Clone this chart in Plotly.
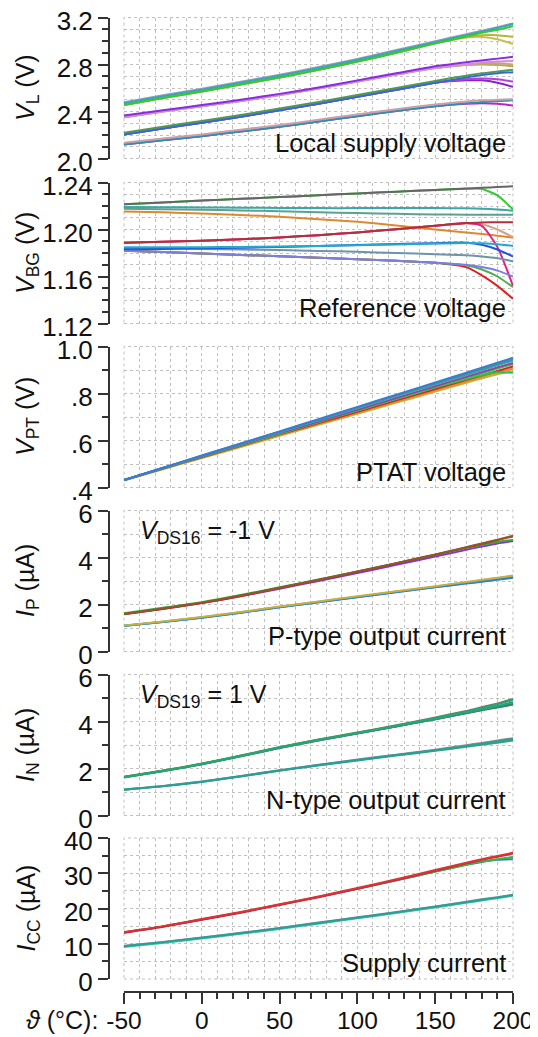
import plotly.graph_objects as go

# ---------------- data ----------------
T = [-50, -25, 0, 25, 50, 75, 100, 125, 150, 170, 180, 190, 200]

# Panel 1: local supply voltage V_L (V)
vl_cyan   = [2.470, 2.530, 2.585, 2.645, 2.705, 2.770, 2.840, 2.915, 2.990, 3.050, 3.080, 3.110, 3.145]
vl_gray   = [2.478, 2.538, 2.593, 2.653, 2.713, 2.778, 2.848, 2.923, 2.998, 3.058, 3.088, 3.118, 3.150]
vl_green  = [2.455, 2.515, 2.570, 2.630, 2.690, 2.755, 2.825, 2.900, 2.980, 3.040, 3.070, 3.095, 3.125]
vl_olive1 = [2.455, 2.515, 2.570, 2.630, 2.690, 2.755, 2.825, 2.900, 2.980, 3.035, 3.050, 3.050, 3.035]
vl_olive2 = [2.455, 2.515, 2.570, 2.630, 2.690, 2.755, 2.825, 2.900, 2.980, 3.030, 3.035, 3.015, 2.975]
vl_purple = [2.365, 2.410, 2.455, 2.500, 2.550, 2.605, 2.665, 2.725, 2.785, 2.820, 2.835, 2.850, 2.865]
vl_pink   = [2.352, 2.400, 2.445, 2.490, 2.540, 2.595, 2.655, 2.715, 2.770, 2.800, 2.815, 2.825, 2.830]
vl_tan    = [2.352, 2.400, 2.445, 2.490, 2.540, 2.595, 2.655, 2.715, 2.770, 2.800, 2.810, 2.810, 2.800]
vl_olive3 = [2.352, 2.400, 2.445, 2.490, 2.540, 2.595, 2.655, 2.715, 2.770, 2.795, 2.800, 2.795, 2.785]
vl_dkgreen= [2.220, 2.270, 2.320, 2.370, 2.425, 2.480, 2.540, 2.600, 2.660, 2.705, 2.725, 2.740, 2.755]
vl_blue   = [2.205, 2.255, 2.305, 2.355, 2.410, 2.465, 2.525, 2.585, 2.645, 2.690, 2.710, 2.725, 2.735]
vl_violet1= [2.205, 2.255, 2.305, 2.355, 2.410, 2.465, 2.525, 2.585, 2.645, 2.675, 2.680, 2.675, 2.655]
vl_violet2= [2.205, 2.255, 2.305, 2.355, 2.410, 2.465, 2.525, 2.585, 2.645, 2.665, 2.665, 2.645, 2.610]
vl_rose   = [2.135, 2.170, 2.205, 2.245, 2.285, 2.330, 2.375, 2.420, 2.460, 2.485, 2.495, 2.500, 2.505]
vl_teal   = [2.120, 2.155, 2.190, 2.230, 2.270, 2.315, 2.360, 2.405, 2.445, 2.470, 2.480, 2.490, 2.495]
vl_magenta= [2.120, 2.155, 2.190, 2.230, 2.270, 2.315, 2.360, 2.405, 2.445, 2.465, 2.470, 2.465, 2.450]

# Panel 2: reference voltage V_BG (V)
vbg_gray    = [1.2215, 1.2230, 1.2246, 1.2261, 1.2276, 1.2291, 1.2307, 1.2322, 1.2337, 1.2349, 1.2355, 1.2362, 1.2368]
vbg_green   = [1.2215, 1.2230, 1.2246, 1.2261, 1.2276, 1.2291, 1.2307, 1.2322, 1.2337, 1.2347, 1.2345, 1.2290, 1.2170]
vbg_teal    = [1.2192, 1.2190, 1.2188, 1.2186, 1.2184, 1.2182, 1.2182, 1.2182, 1.2182, 1.2180, 1.2177, 1.2170, 1.2160]
vbg_sage    = [1.2177, 1.2173, 1.2168, 1.2162, 1.2155, 1.2147, 1.2140, 1.2133, 1.2128, 1.2126, 1.2126, 1.2125, 1.2125]
vbg_orange  = [1.2154, 1.2146, 1.2136, 1.2124, 1.2108, 1.2088, 1.2065, 1.2035, 1.2000, 1.1975, 1.1962, 1.1947, 1.1930]
vbg_red     = [1.1888, 1.1895, 1.1905, 1.1917, 1.1932, 1.1952, 1.1975, 1.2003, 1.2032, 1.2055, 1.2060, 1.2062, 1.2062]
vbg_magenta = [1.1888, 1.1895, 1.1905, 1.1917, 1.1932, 1.1952, 1.1975, 1.2003, 1.2032, 1.2055, 1.2030, 1.1850, 1.1520]
vbg_salmon  = [1.1888, 1.1895, 1.1905, 1.1917, 1.1932, 1.1952, 1.1975, 1.2003, 1.2032, 1.2052, 1.2045, 1.2000, 1.1935]
vbg_cyan    = [1.1849, 1.1849, 1.1850, 1.1852, 1.1855, 1.1860, 1.1866, 1.1873, 1.1880, 1.1885, 1.1882, 1.1875, 1.1860]
vbg_blue    = [1.1832, 1.1835, 1.1840, 1.1845, 1.1852, 1.1860, 1.1868, 1.1876, 1.1884, 1.1888, 1.1870, 1.1830, 1.1770]
vbg_slate   = [1.1840, 1.1837, 1.1834, 1.1830, 1.1825, 1.1818, 1.1810, 1.1800, 1.1790, 1.1780, 1.1770, 1.1755, 1.1730]
vbg_peri    = [1.1820, 1.1808, 1.1796, 1.1784, 1.1772, 1.1760, 1.1747, 1.1733, 1.1718, 1.1700, 1.1680, 1.1650, 1.1600]
vbg_green2  = [1.1820, 1.1808, 1.1796, 1.1784, 1.1772, 1.1760, 1.1747, 1.1733, 1.1718, 1.1695, 1.1660, 1.1600, 1.1510]
vbg_red2    = [1.1820, 1.1808, 1.1796, 1.1784, 1.1772, 1.1760, 1.1747, 1.1733, 1.1718, 1.1680, 1.1610, 1.1520, 1.1410]

# Panel 3: PTAT voltage V_PT (V)
vpt_blue   = [0.432, 0.484, 0.536, 0.587, 0.639, 0.691, 0.743, 0.795, 0.847, 0.888, 0.910, 0.931, 0.952]
vpt_teal   = [0.432, 0.483, 0.535, 0.586, 0.637, 0.688, 0.740, 0.791, 0.842, 0.883, 0.904, 0.924, 0.945]
vpt_slate  = [0.432, 0.483, 0.534, 0.584, 0.635, 0.686, 0.737, 0.788, 0.838, 0.879, 0.899, 0.920, 0.940]
vpt_purple = [0.432, 0.482, 0.532, 0.582, 0.632, 0.681, 0.731, 0.781, 0.831, 0.871, 0.891, 0.911, 0.930]
vpt_green  = [0.432, 0.482, 0.531, 0.580, 0.629, 0.679, 0.728, 0.777, 0.826, 0.866, 0.886, 0.906, 0.925]
vpt_green2 = [0.432, 0.482, 0.531, 0.580, 0.629, 0.679, 0.728, 0.777, 0.826, 0.862, 0.878, 0.890, 0.888]
vpt_red    = [0.432, 0.481, 0.529, 0.578, 0.626, 0.674, 0.722, 0.771, 0.819, 0.858, 0.877, 0.896, 0.915]
vpt_orange = [0.432, 0.480, 0.528, 0.576, 0.624, 0.671, 0.719, 0.766, 0.814, 0.852, 0.871, 0.890, 0.905]
vpt_olive  = [0.430, 0.478, 0.525, 0.572, 0.620, 0.667, 0.714, 0.761, 0.808, 0.846, 0.865, 0.882, 0.895]

# Panel 4: P-type output current I_P (uA)
ip_brown  = [1.60, 1.83, 2.08, 2.38, 2.71, 3.05, 3.40, 3.76, 4.13, 4.44, 4.60, 4.76, 4.93]
ip_red    = [1.58, 1.81, 2.06, 2.36, 2.70, 3.04, 3.39, 3.75, 4.12, 4.43, 4.58, 4.74, 4.90]
ip_green  = [1.63, 1.86, 2.10, 2.40, 2.73, 3.06, 3.41, 3.76, 4.11, 4.40, 4.54, 4.66, 4.75]
ip_purple = [1.60, 1.82, 2.06, 2.35, 2.67, 3.00, 3.34, 3.69, 4.04, 4.33, 4.47, 4.60, 4.70]
ip_olive  = [1.11, 1.28, 1.47, 1.68, 1.91, 2.13, 2.35, 2.56, 2.78, 2.96, 3.05, 3.14, 3.23]
ip_blue   = [1.10, 1.26, 1.44, 1.65, 1.88, 2.10, 2.31, 2.52, 2.73, 2.89, 2.97, 3.05, 3.14]
ip_cyan   = [1.09, 1.25, 1.44, 1.65, 1.88, 2.10, 2.32, 2.53, 2.74, 2.91, 2.99, 3.08, 3.17]
ip_sage   = [1.10, 1.27, 1.46, 1.67, 1.90, 2.12, 2.33, 2.55, 2.76, 2.94, 3.03, 3.12, 3.21]

# Panel 5: N-type output current I_N (uA)
in_gray   = [1.65, 1.91, 2.21, 2.55, 2.91, 3.23, 3.53, 3.84, 4.17, 4.45, 4.61, 4.77, 4.96]
in_green  = [1.64, 1.90, 2.20, 2.54, 2.90, 3.22, 3.52, 3.82, 4.14, 4.42, 4.57, 4.73, 4.92]
in_purple = [1.63, 1.89, 2.18, 2.52, 2.87, 3.19, 3.49, 3.79, 4.10, 4.36, 4.50, 4.62, 4.75]
in_teal   = [1.62, 1.88, 2.18, 2.52, 2.88, 3.20, 3.50, 3.80, 4.11, 4.38, 4.52, 4.66, 4.82]
in_sea    = [1.64, 1.90, 2.19, 2.53, 2.89, 3.21, 3.50, 3.80, 4.10, 4.35, 4.48, 4.60, 4.72]
in_lteal  = [1.10, 1.25, 1.44, 1.67, 1.92, 2.15, 2.36, 2.57, 2.78, 2.96, 3.05, 3.15, 3.25]
in_lgray  = [1.11, 1.26, 1.45, 1.68, 1.93, 2.16, 2.38, 2.59, 2.80, 2.99, 3.09, 3.19, 3.29]
in_lgreen = [1.09, 1.24, 1.43, 1.66, 1.90, 2.13, 2.34, 2.55, 2.75, 2.92, 3.01, 3.10, 3.19]

# Panel 6: supply current I_CC (uA)
icc_red     = [13.3, 15.0, 17.0, 19.0, 21.2, 23.4, 25.8, 28.3, 30.9, 33.0, 34.0, 34.9, 35.8]
icc_crimson = [13.1, 14.8, 16.8, 18.8, 21.0, 23.2, 25.6, 28.1, 30.7, 32.8, 33.8, 34.7, 35.6]
icc_green   = [13.2, 14.9, 16.9, 18.9, 21.1, 23.3, 25.6, 28.0, 30.5, 32.4, 33.3, 34.0, 34.6]
icc_blue    = [13.2, 14.9, 16.9, 18.9, 21.1, 23.3, 25.6, 28.0, 30.5, 32.4, 33.2, 33.8, 34.0]
icc_teal    = [9.3, 10.4, 11.7, 13.0, 14.4, 15.9, 17.4, 18.9, 20.5, 21.8, 22.5, 23.1, 23.8]
icc_mint    = [9.1, 10.2, 11.5, 12.8, 14.2, 15.7, 17.2, 18.7, 20.3, 21.6, 22.3, 22.9, 23.6]
icc_gray    = [9.4, 10.5, 11.8, 13.1, 14.5, 16.0, 17.5, 19.0, 20.6, 21.9, 22.6, 23.2, 23.9]

# axis ranges / ticks
x_range = [-50, 200]
x_ticks = [-50, 0, 50, 100, 150, 200]
x_ticktext = ["-50", "0", "50", "100", "150", "200"]
y_ranges = [[2.0, 3.2], [1.12, 1.24], [0.4, 1.0], [0, 6], [0, 6], [0, 40]]
y_tickvals = [[2.0, 2.4, 2.8, 3.2], [1.12, 1.16, 1.20, 1.24], [0.4, 0.6, 0.8, 1.0],
              [0, 2, 4, 6], [0, 2, 4, 6], [0, 10, 20, 30, 40]]
y_ticktext = [["2.0", "2.4", "2.8", "3.2"], ["1.12", "1.16", "1.20", "1.24"], [".4", ".6", ".8", "1.0"],
              ["0", "2", "4", "6"], ["0", "2", "4", "6"], ["0", "10", "20", "30", "40"]]
y_minor = [0.1, 0.01, 0.1, 1, 1, 5]
y_titles = ["<i>V</i><sub>L</sub> (V)", "<i>V</i><sub>BG</sub> (V)", "<i>V</i><sub>PT</sub> (V)",
            "<i>I</i><sub>P</sub> (µA)", "<i>I</i><sub>N</sub> (µA)", "<i>I</i><sub>CC</sub> (µA)"]
panel_labels = ["Local supply voltage", "Reference voltage", "PTAT voltage",
                "P-type output current", "N-type output current", "Supply current"]

# drawing order: curves that branch off late are drawn first (underneath)
panels = [
    [(vl_olive2, "#c8bf50"), (vl_olive1, "#b8b23c"), (vl_gray, "#8fa3b3"), (vl_cyan, "#3f9fc4"), (vl_green, "#2ecc2e"),
     (vl_olive3, "#b0b048"), (vl_tan, "#c9a27a"), (vl_pink, "#d28fd0"), (vl_purple, "#8a2be2"),
     (vl_violet2, "#8a1fd0"), (vl_violet1, "#b040e0"), (vl_blue, "#3366dd"), (vl_dkgreen, "#4f9a4f"),
     (vl_magenta, "#c020c8"), (vl_teal, "#2f8fb0"), (vl_rose, "#c8a0a8")],
    [(vbg_green, "#33cc33"), (vbg_gray, "#666666"), (vbg_teal, "#3aa8a8"), (vbg_sage, "#5f9f8f"),
     (vbg_orange, "#dd8833"), (vbg_salmon, "#d8a080"), (vbg_magenta, "#dd2288"), (vbg_red, "#b03040"),
     (vbg_red2, "#dd2222"), (vbg_green2, "#55aa55"), (vbg_peri, "#7d7fe0"), (vbg_slate, "#6f93a8"),
     (vbg_blue, "#2255dd"), (vbg_cyan, "#22aacc")],
    [(vpt_olive, "#c8b030"), (vpt_orange, "#e68a2e"), (vpt_red, "#d62728"), (vpt_green2, "#33bb55"),
     (vpt_green, "#2ecc40"), (vpt_purple, "#8e44ad"), (vpt_slate, "#6b8fb0"), (vpt_teal, "#2aa198"),
     (vpt_blue, "#3a7bd5")],
    [(ip_sage, "#88a088"), (ip_cyan, "#20b0c0"), (ip_blue, "#3080d0"), (ip_olive, "#c8b040"),
     (ip_purple, "#8833cc"), (ip_green, "#33aa33"), (ip_red, "#cc2222"), (ip_brown, "#8b5a2b")],
    [(in_lgray, "#888888"), (in_lgreen, "#33aa66"), (in_lteal, "#2a9d9f"),
     (in_purple, "#7b3fa0"), (in_sea, "#2e8b57"), (in_gray, "#777777"), (in_teal, "#2a9d8f"), (in_green, "#22aa66")],
    [(icc_gray, "#888888"), (icc_mint, "#3ccf8e"), (icc_teal, "#2a9d9f"),
     (icc_blue, "#3377cc"), (icc_green, "#33bb33"), (icc_crimson, "#cc2244"), (icc_red, "#dd3333")],
]

# ---------------- layout geometry (reference pixels; page body has an 8 px margin) ----------------
OFF = 8
W, H = 538 - OFF, 1037 - OFF
PX_LEFT, PX_RIGHT = 124 - OFF, 513 - OFF
PANEL_TOPS = [t - OFF for t in [17.5, 182.5, 346.5, 510.5, 674.5, 838]]
PANEL_H = 141
YAXIS_X = 109 - OFF
XAXIS_Y = 992 - OFF
FONT = "Liberation Sans, Arial, sans-serif"
GRID = "#c0c0c0"
AX = "#333333"
TXT = "#111111"
YTICK_SIZE = 26
XTICK_SIZE = 24.5
LABEL_SIZE = 25.5


def sfx(n):
    return "" if n == 1 else str(n)


fig = go.Figure()
for i, series in enumerate(panels):
    s = sfx(i + 1)
    for vals, col in series:
        fig.add_trace(go.Scatter(x=T, y=vals, mode="lines",
                                 line=dict(color=col, width=2, shape="spline", smoothing=0.6),
                                 xaxis=f"x{s}", yaxis=f"y{s}", showlegend=False, hoverinfo="skip"))

layout = dict(width=W, height=H, margin=dict(l=0, r=0, t=0, b=0, pad=0), autosize=False,
              paper_bgcolor="white", plot_bgcolor="white", showlegend=False,
              font=dict(family=FONT, size=25, color=TXT))
xdom = [PX_LEFT / W, PX_RIGHT / W]
annotations = []
shapes = []
for i in range(6):
    n = i + 1
    s = sfx(n)
    top = PANEL_TOPS[i]
    bot = top + PANEL_H
    ydom = [1 - bot / H, 1 - top / H]
    last = (i == 5)
    xa = dict(domain=xdom, range=x_range, tickmode="array", tickvals=x_ticks, ticktext=x_ticktext,
              showgrid=True, gridcolor=GRID, griddash="dot", gridwidth=1, zeroline=False, automargin=False,
              ticklabeloverflow="allow",
              minor=dict(dtick=10, tick0=0, showgrid=True, gridcolor=GRID, griddash="dot", gridwidth=1,
                         ticks="outside" if last else "", ticklen=6, tickcolor=AX, tickwidth=1.5))
    if last:
        xa.update(anchor="free", position=1 - XAXIS_Y / H, showline=True, linecolor=AX, linewidth=2,
                  ticks="outside", ticklen=11, tickwidth=1.5, tickcolor=AX, showticklabels=True,
                  ticklabelstandoff=-4,
                  tickfont=dict(size=XTICK_SIZE, family=FONT, color=TXT))
    else:
        xa.update(anchor=f"y{s}", showline=False, ticks="", showticklabels=False)
    ya = dict(domain=ydom, range=y_ranges[i], anchor="free", position=YAXIS_X / W, side="left",
              tickmode="array", tickvals=y_tickvals[i], ticktext=y_ticktext[i], automargin=False,
              ticklabeloverflow="allow", ticklabelshift=3,
              showgrid=True, gridcolor=GRID, griddash="dot", gridwidth=1, zeroline=False,
              showline=True, linecolor=AX, linewidth=2, ticks="outside", ticklen=10, tickwidth=1.5,
              tickcolor=AX, tickfont=dict(size=YTICK_SIZE, family=FONT, color=TXT),
              minor=dict(dtick=y_minor[i], tick0=y_ranges[i][0], showgrid=True, gridcolor=GRID,
                         griddash="dot", gridwidth=1, ticks="outside", ticklen=6, tickcolor=AX, tickwidth=1.5))
    layout[f"xaxis{s}"] = xa
    layout[f"yaxis{s}"] = ya
    shapes.append(dict(type="rect", xref=f"x{s} domain", yref=f"y{s} domain", x0=0, x1=1, y0=0, y1=1,
                       line=dict(color=GRID, width=1, dash="dot"), layer="below"))
    annotations.append(dict(text=panel_labels[i], xref=f"x{s} domain", yref=f"y{s} domain", x=0.987, y=0.0,
                            xanchor="right", yanchor="bottom", showarrow=False,
                            font=dict(size=LABEL_SIZE, family=FONT, color=TXT)))
    annotations.append(dict(text=y_titles[i], xref="paper", yref="paper", x=(27 - OFF) / W,
                            y=1 - (top + PANEL_H / 2) / H,
                            xanchor="center", yanchor="middle", textangle=-90, showarrow=False,
                            font=dict(size=25, family=FONT, color=TXT)))

annotations.append(dict(text="<i>V</i><sub>DS16</sub> = -1 V", xref="x4 domain", yref="y4 domain", x=0.035, y=0.85,
                        xanchor="left", yanchor="middle", showarrow=False,
                        font=dict(size=25, family=FONT, color=TXT)))
annotations.append(dict(text="<i>V</i><sub>DS19</sub> = 1 V", xref="x5 domain", yref="y5 domain", x=0.035, y=0.85,
                        xanchor="left", yanchor="middle", showarrow=False,
                        font=dict(size=25, family=FONT, color=TXT)))
annotations.append(dict(text="<i>ϑ</i> (°C):", xref="paper", yref="paper", x=(100 - OFF) / W,
                        y=1 - (1020 - OFF) / H,
                        xanchor="right", yanchor="middle", showarrow=False,
                        font=dict(size=25, family=FONT, color=TXT)))

layout["annotations"] = annotations
layout["shapes"] = shapes
fig.update_layout(**layout)
fig.write_html("out.html")
